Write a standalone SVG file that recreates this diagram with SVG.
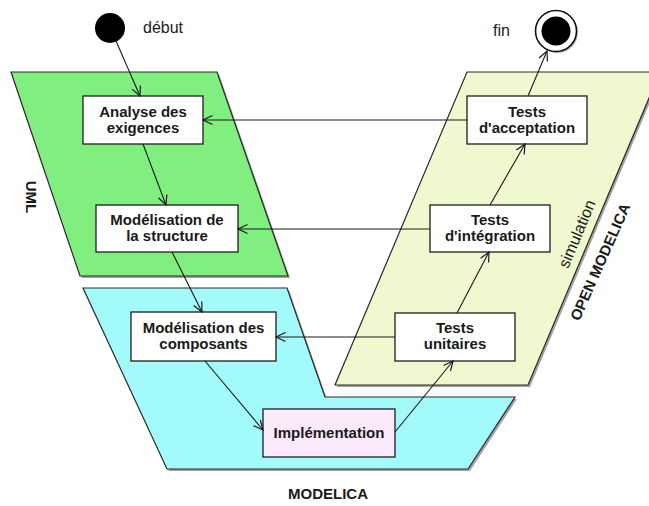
<svg xmlns="http://www.w3.org/2000/svg" width="649" height="506" viewBox="0 0 649 506">
  <style>
    .region { stroke: #2a2a2a; stroke-width: 1.2; }
    .shadow { fill: #555; opacity: 0.55; }
    .box { fill: #ffffff; stroke: #1e1e1e; stroke-width: 1.3; }
    .lbl { font-family: "Liberation Sans", Arial, sans-serif; font-size: 15px; font-weight: bold; fill: #1a1a1a; text-anchor: middle; }
    .plain { font-family: "Liberation Sans", Arial, sans-serif; font-size: 16px; fill: #1a1a1a; }
    .bold { font-family: "Liberation Sans", Arial, sans-serif; font-size: 15px; font-weight: bold; fill: #1a1a1a; }
    .edge { fill: none; stroke: #1a1a1a; stroke-width: 1.1; marker-end: url(#arrow); }
  </style>
  <defs>
    <marker id="arrow" markerUnits="userSpaceOnUse" markerWidth="12" markerHeight="12" refX="10" refY="5" orient="auto" viewBox="0 0 12 10">
      <path d="M0.5,0.5 L10,5 L0.5,9.5" fill="none" stroke="#1a1a1a" stroke-width="1.2"/>
    </marker>
  </defs>

  <rect width="649" height="506" fill="#ffffff"/>

  <!-- swimlane-like regions -->
  <g id="region-modelica">
    <polygon class="shadow" points="85,290 289,290 327,399 517,399 470,471 169,471"/>
    <polygon class="region" fill="#a2fafa" points="83,288 287,288 325,397 515,397 468,469 167,469"/>
  </g>
  <g id="region-uml">
    <polygon class="shadow" points="13,74 219,74 290,278 82,278"/>
    <polygon class="region" fill="#80ef80" points="11,72 217,72 288,276 80,276"/>
  </g>
  <g id="region-openmodelica">
    <polygon class="shadow" points="469,74 662,74 530,387 337,387"/>
    <polygon class="region" fill="#eff8cf" points="467,72 660,72 528,385 335,385"/>
  </g>

  <!-- region titles -->
  <text class="bold" transform="translate(26,197) rotate(90)" text-anchor="middle">UML</text>
  <text class="bold" x="328" y="499" text-anchor="middle">MODELICA</text>
  <text class="bold" transform="translate(605,264) rotate(-66)" text-anchor="middle">OPEN MODELICA</text>
  <text class="plain" transform="translate(582,236) rotate(-67)" text-anchor="middle">simulation</text>

  <!-- start / end states -->
  <g id="start">
    <circle cx="110" cy="28" r="15" fill="#000"/>
    <text class="plain" x="143" y="33">début</text>
  </g>
  <g id="end">
    <circle cx="557.5" cy="32.5" r="20.5" fill="#666" opacity="0.5"/>
    <circle cx="556" cy="31" r="20.5" fill="#fff" stroke="#111" stroke-width="1.6"/>
    <circle cx="556" cy="31" r="14.5" fill="#000"/>
    <text class="plain" x="493" y="36">fin</text>
  </g>

  <!-- activities -->
  <g id="analyse">
    <rect class="box" x="83" y="96" width="120" height="48"/>
    <text class="lbl" x="143" y="117">Analyse des</text>
    <text class="lbl" x="143" y="133">exigences</text>
  </g>
  <g id="structure">
    <rect class="box" x="96" y="205" width="142" height="47"/>
    <text class="lbl" x="167" y="225">Modélisation de</text>
    <text class="lbl" x="167" y="241">la structure</text>
  </g>
  <g id="composants">
    <rect class="box" x="131" y="312" width="145" height="49"/>
    <text class="lbl" x="203.5" y="333">Modélisation des</text>
    <text class="lbl" x="203.5" y="349">composants</text>
  </g>
  <g id="implementation">
    <rect class="box" x="263" y="409" width="132" height="48" style="fill:#fbeafb"/>
    <text class="lbl" x="329" y="438">Implémentation</text>
  </g>
  <g id="tests-unitaires">
    <rect class="box" x="395" y="313" width="120" height="48"/>
    <text class="lbl" x="455" y="333">Tests</text>
    <text class="lbl" x="455" y="349">unitaires</text>
  </g>
  <g id="tests-integration">
    <rect class="box" x="430" y="205" width="120" height="47"/>
    <text class="lbl" x="490" y="225">Tests</text>
    <text class="lbl" x="490" y="241">d'intégration</text>
  </g>
  <g id="tests-acceptation">
    <rect class="box" x="467" y="96" width="120" height="48"/>
    <text class="lbl" x="527" y="117">Tests</text>
    <text class="lbl" x="527" y="133">d'acceptation</text>
  </g>

  <!-- transitions -->
  <g id="connectors">
    <line class="edge" x1="116" y1="41" x2="140" y2="96"/>
    <line class="edge" x1="143" y1="144" x2="166" y2="205"/>
    <line class="edge" x1="172" y1="252" x2="202" y2="312"/>
    <line class="edge" x1="205" y1="361" x2="263" y2="430"/>
    <line class="edge" x1="395" y1="432" x2="453" y2="361"/>
    <line class="edge" x1="457" y1="313" x2="489" y2="252"/>
    <line class="edge" x1="490" y1="205" x2="525" y2="144"/>
    <line class="edge" x1="528" y1="96" x2="547" y2="51"/>
    <line class="edge" x1="467" y1="120" x2="203" y2="120"/>
    <line class="edge" x1="430" y1="229" x2="238" y2="229"/>
    <line class="edge" x1="395" y1="337" x2="276" y2="337"/>
  </g>
</svg>
